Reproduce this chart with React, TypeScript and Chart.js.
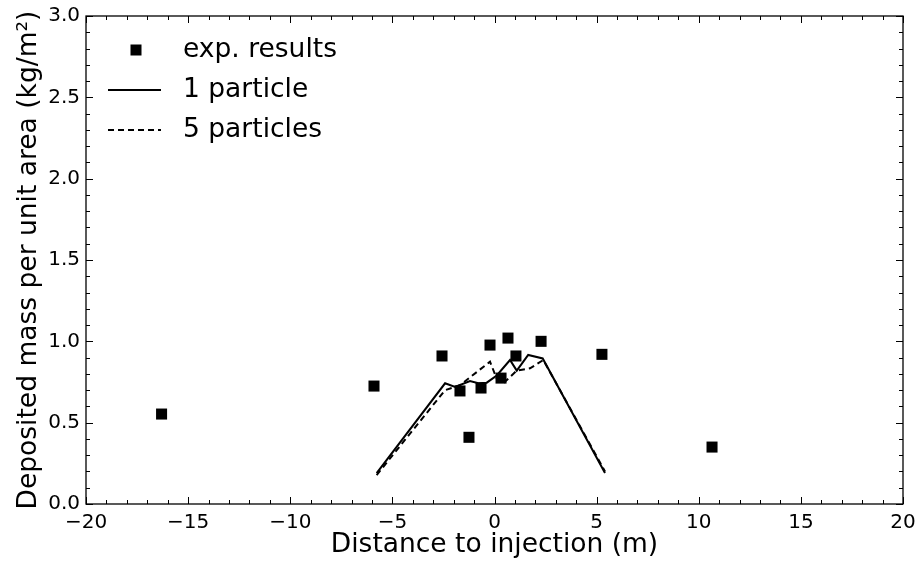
import React, { useEffect, useRef } from "react";
import { Chart, registerables } from "chart.js";

Chart.register(...registerables);

const expX = [-16.3, -5.9, -2.57, -1.69, -1.25, -0.66, -0.22, 0.32, 0.66, 1.05, 2.28, 5.26, 10.65];
const expY = [0.553, 0.725, 0.91, 0.695, 0.41, 0.713, 0.977, 0.774, 1.02, 0.91, 1.0, 0.92, 0.35];

const oneX = [-5.77, -2.42, -1.93, -1.2, -0.79, -0.38, 0.11, 0.76, 1.09, 1.65, 2.36, 5.41];
const oneY = [0.19, 0.742, 0.72, 0.756, 0.742, 0.746, 0.79, 0.885, 0.82, 0.916, 0.895, 0.19];

const fiveX = [-5.77, -2.42, -1.69, -0.22, 0.11, 0.43, 1.09, 1.74, 2.39, 5.41];
const fiveY = [0.178, 0.7, 0.73, 0.875, 0.77, 0.742, 0.82, 0.834, 0.885, 0.2];

const legendLabels = ["exp. results", "1 particle", "5 particles"];
const xTitle = "Distance to injection (m)";
const yTitle = "Deposited mass per unit area (kg/m²)";

const FONT = "'DejaVu Sans', sans-serif";

const fmt = (v: number, d: number) => {
  const s = Math.abs(v).toFixed(d);
  return v < 0 ? "\u2212" + s : s;
};

const frameTicksPlugin = {
  id: "frameTicks",
  afterDraw(chart: any) {
    const { ctx, chartArea: a, scales } = chart;
    const xs = scales.x;
    const ys = scales.y;
    ctx.save();
    ctx.strokeStyle = "#000";
    ctx.lineWidth = 1;
    const major = 7;
    const minor = 4;
    ctx.beginPath();
    for (let v = -20; v <= 20; v += 1) {
      const px = Math.round(xs.getPixelForValue(v)) + 0.5;
      const len = v % 5 === 0 ? major : minor;
      ctx.moveTo(px, a.bottom);
      ctx.lineTo(px, a.bottom - len);
      ctx.moveTo(px, a.top);
      ctx.lineTo(px, a.top + len);
    }
    for (let i = 0; i <= 30; i++) {
      const v = i / 10;
      const py = Math.round(ys.getPixelForValue(v)) + 0.5;
      const len = i % 5 === 0 ? major : minor;
      ctx.moveTo(a.left, py);
      ctx.lineTo(a.left + len, py);
      ctx.moveTo(a.right, py);
      ctx.lineTo(a.right - len, py);
    }
    ctx.stroke();
    ctx.lineWidth = 1.3;
    ctx.strokeRect(a.left, a.top, a.right - a.left, a.bottom - a.top);

    // legend
    const ds = chart.data.datasets;
    ctx.font = `26.5px ${FONT}`;
    ctx.fillStyle = "#000";
    ctx.textBaseline = "middle";
    ctx.textAlign = "left";
    const rows = [50, 90, 130];
    const textX = 183;
    ctx.fillRect(136 - 5.5, rows[0] - 5.5, 11, 11);
    ctx.fillText(ds[0].label, textX, rows[0]);
    ctx.lineWidth = 2;
    ctx.setLineDash([]);
    ctx.beginPath();
    ctx.moveTo(108, rows[1]);
    ctx.lineTo(161, rows[1]);
    ctx.stroke();
    ctx.fillText(ds[1].label, textX, rows[1]);
    ctx.setLineDash(ds[2].borderDash);
    ctx.beginPath();
    ctx.moveTo(108, rows[2]);
    ctx.lineTo(161, rows[2]);
    ctx.stroke();
    ctx.setLineDash([]);
    ctx.fillText(ds[2].label, textX, rows[2]);
    ctx.restore();
  },
};

export default function App() {
  const ref = useRef<HTMLCanvasElement>(null);
  useEffect(() => {
    document.body.style.margin = "0";
    const chart = new Chart(ref.current!, {
      type: "scatter",
      data: {
        datasets: [
          {
            label: legendLabels[0],
            data: expX.map((x, i) => ({ x, y: expY[i] })),
            pointStyle: "rect",
            pointRadius: 7.8,
            backgroundColor: "#000",
            borderColor: "#000",
            borderWidth: 0,
            showLine: false,
          },
          {
            label: legendLabels[1],
            data: oneX.map((x, i) => ({ x, y: oneY[i] })),
            showLine: true,
            borderColor: "#000",
            borderWidth: 2,
            pointRadius: 0,
            fill: false,
          },
          {
            label: legendLabels[2],
            data: fiveX.map((x, i) => ({ x, y: fiveY[i] })),
            showLine: true,
            borderColor: "#000",
            borderWidth: 2,
            borderDash: [6, 4],
            pointRadius: 0,
            fill: false,
          },
        ],
      },
      options: {
        animation: false,
        responsive: false,
        maintainAspectRatio: false,
        layout: { padding: { left: 0, right: 14, top: 16, bottom: 0 } },
        plugins: { legend: { display: false }, tooltip: { enabled: false } },
        scales: {
          x: {
            type: "linear",
            min: -20,
            max: 20,
            grid: { display: false, drawTicks: false },
            border: { display: false },
            ticks: {
              stepSize: 5,
              padding: 7,
              color: "#000",
              font: { family: FONT, size: 20 },
              maxRotation: 0,
              callback: (v: any) => fmt(Number(v), 0),
            },
            title: {
              display: true,
              text: xTitle,
              color: "#000",
              font: { family: FONT, size: 26.5 },
              padding: { top: 0, bottom: 0 },
            },
            afterFit: (s: any) => {
              s.height = 57;
              s.paddingLeft = 0;
              s.paddingRight = 0;
            },
          },
          y: {
            type: "linear",
            min: 0,
            max: 3,
            grid: { display: false, drawTicks: false },
            border: { display: false },
            ticks: {
              stepSize: 0.5,
              padding: 6,
              color: "#000",
              font: { family: FONT, size: 20 },
              callback: (v: any) => fmt(Number(v), 1),
            },
            title: {
              display: true,
              text: yTitle,
              color: "#000",
              font: { family: FONT, size: 26.5 },
              padding: { top: 13, bottom: 4 },
            },
            afterFit: (s: any) => {
              s.width = 86;
              s.paddingTop = 0;
              s.paddingBottom = 0;
            },
          },
        },
      },
      plugins: [frameTicksPlugin],
    });
    return () => chart.destroy();
  }, []);
  return (
    <div style={{ position: "fixed", left: 0, top: 0, width: 917, height: 561, background: "#fff" }}>
      <canvas ref={ref} width={917} height={561} style={{ display: "block" }} />
    </div>
  );
}
